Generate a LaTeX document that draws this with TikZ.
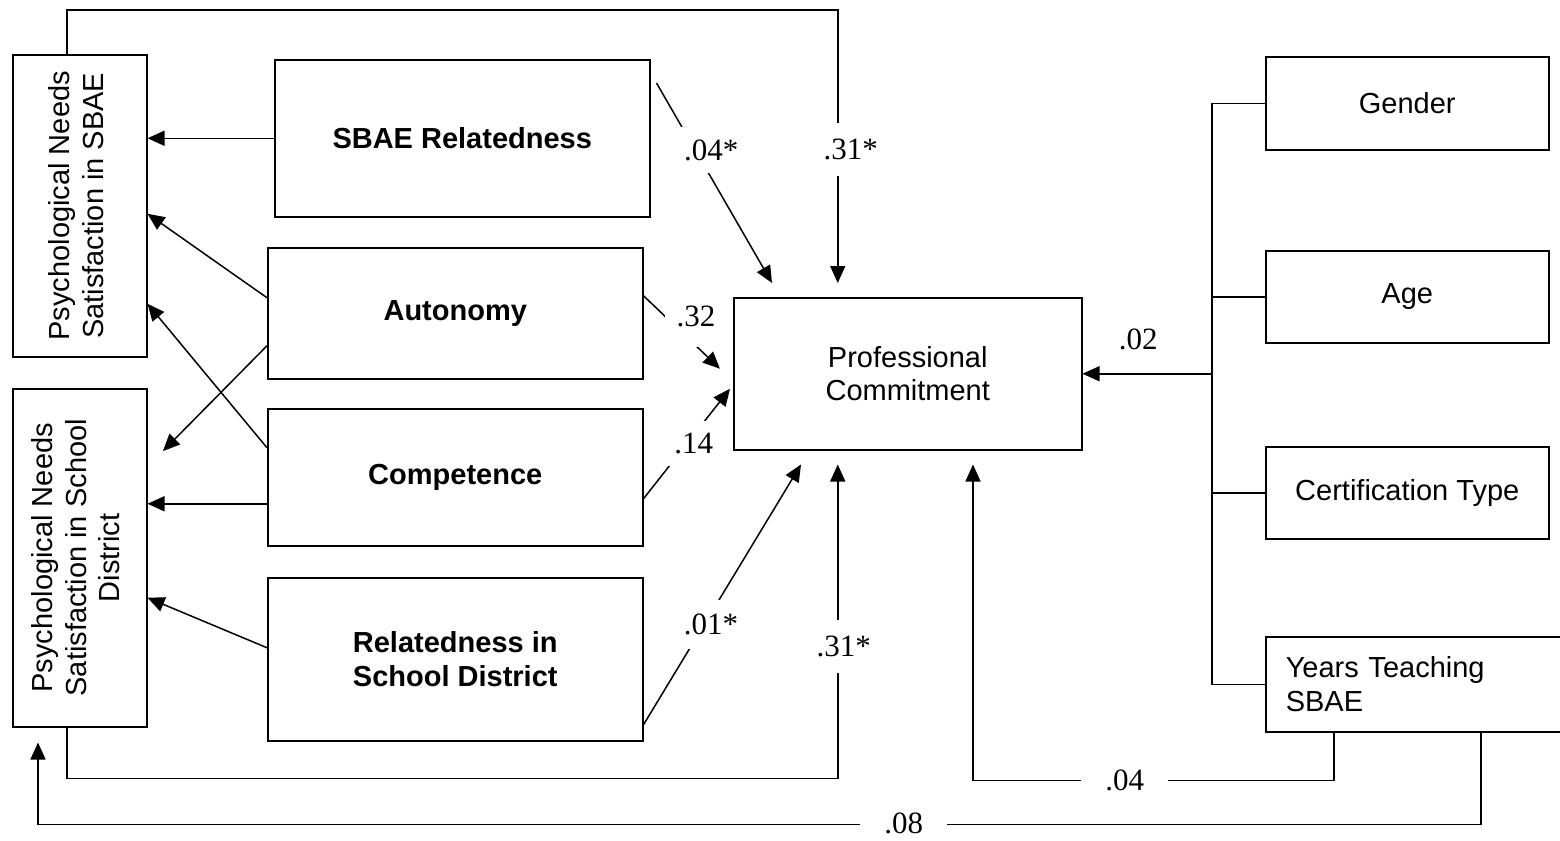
\documentclass[tikz,border=0pt]{standalone}
\usepackage{fontspec}
\setmainfont{Liberation Serif}
\setsansfont{Liberation Sans}
\usepackage{graphicx}
\usetikzlibrary{arrows.meta}

\begin{document}
\begin{tikzpicture}[x=0.5pt, y=-0.5pt,
  box/.style={draw, line width=0.75pt, inner sep=0pt, align=center, anchor=north west, font=\sffamily\fontsize{14.5}{16.75}\selectfont},
  ln/.style={line width=0.75pt},
  arr/.style={ln, -{Triangle[length=8.5pt, width=7.5pt]}},
  coef/.style={fill=white, inner sep=6pt, font=\fontsize{15.5}{17}\selectfont}]
\useasboundingbox (0,0) rectangle (1560,841);
\clip (0,0) rectangle (1560,841);
\node[box, minimum width=67pt, minimum height=151pt] (psbae) at (12,54) {\rotatebox{90}{\begin{tabular}{@{}c@{}}Psychological Needs\\ Satisfaction in SBAE\end{tabular}}};
\node[box, minimum width=67pt, minimum height=169pt] (psd) at (12,388) {\rotatebox{90}{\begin{tabular}{@{}c@{}}Psychological Needs\\ Satisfaction in School\\ District\end{tabular}}};
\node[box, minimum width=187.5pt, minimum height=78.5pt] (sbaerel) at (274,59) {\textbf{SBAE Relatedness}};
\node[box, minimum width=187.5pt, minimum height=65.5pt] (auto) at (267,247) {\textbf{Autonomy}};
\node[box, minimum width=187.5pt, minimum height=68.5pt] (comp) at (267,408) {\textbf{Competence}};
\node[box, minimum width=187.5pt, minimum height=81.5pt] (relsd) at (267,577) {\textbf{Relatedness in}\\ \textbf{School District}};
\node[box, minimum width=174pt, minimum height=76pt] (pc) at (733,297) {Professional\\ Commitment};
\node[box, minimum width=141.5pt, minimum height=46.5pt] (gender) at (1265,56) {Gender};
\node[box, minimum width=141.5pt, minimum height=46pt] (age) at (1265,250) {Age};
\node[box, minimum width=141.5pt, minimum height=46pt] (cert) at (1265,446) {Certification Type};
\node[box, align=left, inner xsep=10pt, text width=137.5pt, minimum height=47.5pt] (years) at (1265,636) {Years Teaching\\ SBAE};

\draw[arr] (sbaerel.west) -- (sbaerel.west -| psbae.east);
\draw[arr] ([yshift=7.75pt]auto.west) -- ([yshift=-4pt]psbae.east);
\draw[arr] ([yshift=14.75pt]comp.west) -- ([yshift=-49pt]psbae.east);
\draw[arr, shorten >=11pt] ([yshift=-16.25pt]auto.west) -- ([yshift=45.5pt]psd.east);
\draw[arr] ([yshift=-13.25pt]comp.west) -- ([yshift=27pt]psd.east);
\draw[arr] ([yshift=5.75pt]relsd.west) -- ([yshift=-20pt]psd.east);

\draw[arr] ([xshift=3pt,yshift=-12pt]sbaerel.north east) -- node[coef, pos=0.335, xshift=8pt] {.04*} ([xshift=19.5pt,yshift=7pt]pc.north west);
\draw[arr] ([yshift=8.75pt]auto.east) -- node[coef, inner ysep=10pt, pos=0.45, xshift=9pt, yshift=6pt] {.32} ([xshift=-6.5pt,yshift=2.5pt]pc.west);
\draw[arr] ([yshift=-10.75pt]comp.east) -- node[coef, pos=0.5, xshift=3.5pt] {.14} ([xshift=-1.5pt,yshift=-7.5pt]pc.west);
\draw[arr] ([yshift=-32.75pt]relsd.east) -- node[coef, inner sep=7pt, pos=0.387, xshift=3.25pt] {.01*} ([xshift=34pt,yshift=-7pt]pc.south west);

\draw[arr] ([xshift=-6.5pt]psbae.north) -- ++(0,-44) -| node[coef, inner ysep=8pt, pos=0.756, xshift=6.5pt] {.31*} ([xshift=-35pt,yshift=7pt]pc.north);
\draw[arr] ([xshift=-6.5pt]psd.south) -- ++(0,51) -| node[coef, inner ysep=8pt, pos=0.71, xshift=3pt] {.31*} ([xshift=-35pt,yshift=-7pt]pc.south);

\draw[ln] (gender.west) -- ++(-53,0) coordinate (bus) |- (years.west);
\draw[ln] (age.west) -- (age.west -| bus);
\draw[ln] (cert.west) -- (cert.west -| bus);
\draw[arr] (bus |- pc.east) -- node[midway, xshift=-4.5pt, yshift=17pt, font=\fontsize{15.5}{17}\selectfont] {.02} (pc.east);

\draw[arr] ([xshift=34.5pt]years.south west) -- ++(0,48) -| node[coef, inner xsep=12pt, pos=0.29] {.04} ([xshift=120pt,yshift=-7pt]pc.south west);
\draw[arr] ([xshift=108pt]years.south west) -- ++(0,92) -| node[coef, inner xsep=12pt, inner ysep=0pt, pos=0.2, yshift=0.5pt] {.08} ([xshift=13pt,yshift=-7.5pt]psd.south west);
\end{tikzpicture}
\end{document}
